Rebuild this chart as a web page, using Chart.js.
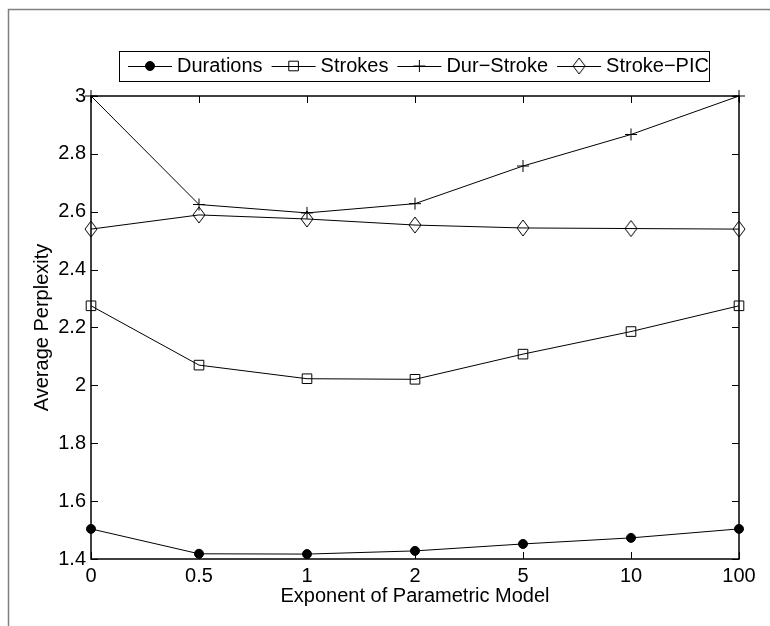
<!DOCTYPE html>
<html lang="en">
<head>
<meta charset="UTF-8">
<title>Average Perplexity</title>
<script src="https://cdn.jsdelivr.net/npm/chart.js"></script>
<style>
    body {
        margin: 0;
        background: #fff;
    }

    .wrap {
        width: 770px;
        height: 626px;
        position: relative;
    }
</style>
</head>
<body>
<div class="wrap"><canvas id="perplexityChart"></canvas></div>
<script>
    const exponents = ['0', '0.5', '1', '2', '5', '10', '100'];
    const durations = [1.504, 1.418, 1.417, 1.428, 1.452, 1.473, 1.504];
    const strokes = [2.275, 2.070, 2.023, 2.021, 2.108, 2.186, 2.275];
    const durStroke = [3.0, 2.625, 2.596, 2.628, 2.758, 2.867, 3.0];
    const strokePic = [2.540, 2.589, 2.575, 2.554, 2.544, 2.542, 2.540];
    const yMin = 1.4, yMax = 3, yStep = 0.2;

    const FONT = 'Liberation Sans, Arial, Helvetica, sans-serif';

    // open diamond, a bit taller than wide like the matlab marker
    function makeDiamond() {
        const c = document.createElement('canvas');
        c.width = 14; c.height = 18;
        const g = c.getContext('2d');
        g.strokeStyle = '#000';
        g.lineWidth = 1;
        g.beginPath();
        g.moveTo(7, 1); g.lineTo(13, 9); g.lineTo(7, 17); g.lineTo(1, 9);
        g.closePath();
        g.stroke();
        return c;
    }
    const diamond = makeDiamond();

    function series(label, data, style, radius, fill) {
        return {
            label: label,
            data: data,
            borderColor: '#000',
            borderWidth: 1,
            tension: 0,
            clip: false,
            pointStyle: style,
            pointRadius: radius,
            pointHoverRadius: radius,
            pointBorderColor: '#000',
            pointBorderWidth: 1,
            pointBackgroundColor: fill
        };
    }

    // matlab style box with inward ticks + outer frame
    const boxPlugin = {
        id: 'box',
        beforeDraw(chart) {
            const ctx = chart.ctx;
            ctx.save();
            ctx.strokeStyle = '#808080';
            ctx.lineWidth = 1.5;
            ctx.beginPath();
            ctx.moveTo(8.5, chart.height);
            ctx.lineTo(8.5, 9.5);
            ctx.lineTo(chart.width, 9.5);
            ctx.stroke();
            ctx.restore();
        },
        afterDatasetsDraw(chart) {
            const { ctx, chartArea: a, scales } = chart;
            const len = 7;
            ctx.save();
            ctx.strokeStyle = '#000';
            ctx.lineWidth = 1;
            ctx.beginPath();
            scales.x.ticks.forEach((t, i) => {
                const px = Math.round(scales.x.getPixelForTick(i)) + 0.5;
                ctx.moveTo(px, a.bottom); ctx.lineTo(px, a.bottom - len);
                ctx.moveTo(px, a.top); ctx.lineTo(px, a.top + len);
            });
            scales.y.ticks.forEach(t => {
                const py = Math.round(scales.y.getPixelForValue(t.value)) + 0.5;
                ctx.moveTo(a.left, py); ctx.lineTo(a.left + len, py);
                ctx.moveTo(a.right, py); ctx.lineTo(a.right - len, py);
            });
            ctx.stroke();
            ctx.lineWidth = 1.5;
            ctx.strokeRect(a.left, a.top, a.right - a.left, a.bottom - a.top);
            ctx.restore();
        },
        afterDraw(chart) {
            // legend box in the matlab layout: line with marker, then text
            const ctx = chart.ctx;
            const top = 51, bottom = 81, left = 119, right = 709;
            const midY = (top + bottom) / 2;
            ctx.save();
            ctx.fillStyle = '#fff';
            ctx.fillRect(left, top, right - left, bottom - top);
            ctx.strokeStyle = '#000';
            ctx.lineWidth = 1;
            ctx.strokeRect(left + 0.5, top + 0.5, right - left, bottom - top);
            ctx.font = '20px ' + FONT;
            ctx.textBaseline = 'middle';
            let x = 128;
            chart.data.datasets.forEach(ds => {
                ctx.strokeStyle = '#000';
                ctx.lineWidth = 1;
                ctx.beginPath();
                ctx.moveTo(x, midY + 0.5);
                ctx.lineTo(x + 44, midY + 0.5);
                ctx.stroke();
                ctx.fillStyle = ds.pointBackgroundColor;
                Chart.helpers.drawPoint(ctx, {
                    pointStyle: ds.pointStyle,
                    radius: ds.pointRadius,
                    borderWidth: 1,
                    rotation: 0
                }, x + 22, midY);
                ctx.fillStyle = '#000';
                ctx.fillText(ds.label, x + 49, midY);
                x += 49 + ctx.measureText(ds.label).width + 9;
            });
            ctx.restore();
        }
    };

    new Chart(document.getElementById('perplexityChart'), {
        type: 'line',
        data: {
            labels: exponents,
            datasets: [
                series('Durations', durations, 'circle', 4.5, '#000'),
                series('Strokes', strokes, 'rect', 6.8, 'rgba(0,0,0,0)'),
                series('Dur\u2212Stroke', durStroke, 'cross', 6, 'rgba(0,0,0,0)'),
                series('Stroke\u2212PIC', strokePic, diamond, 7, 'rgba(0,0,0,0)')
            ]
        },
        options: {
            responsive: true,
            maintainAspectRatio: false,
            animation: false,
            layout: { padding: { top: 96, right: 31, left: 0, bottom: 0 } },
            plugins: {
                legend: { display: false },
                tooltip: { enabled: false }
            },
            scales: {
                x: {
                    offset: false,
                    grid: { display: false, drawTicks: false },
                    border: { display: false },
                    ticks: {
                        color: '#000',
                        padding: 5,
                        maxRotation: 0,
                        font: { family: FONT, size: 20 }
                    },
                    title: {
                        display: true,
                        text: 'Exponent of Parametric Model',
                        color: '#000',
                        padding: { top: 0, bottom: 18 },
                        font: { family: FONT, size: 20 }
                    },
                    afterFit(s) { s.height = 67; }
                },
                y: {
                    min: yMin,
                    max: yMax,
                    grid: { display: false, drawTicks: false },
                    border: { display: false },
                    ticks: {
                        stepSize: yStep,
                        color: '#000',
                        padding: 5,
                        font: { family: FONT, size: 20 },
                        callback: v => String(+v.toFixed(1))
                    },
                    title: {
                        display: true,
                        text: 'Average Perplexity',
                        color: '#000',
                        padding: { top: 30, bottom: 0 },
                        font: { family: FONT, size: 20 }
                    },
                    afterFit(s) { s.width = 91; }
                }
            }
        },
        plugins: [boxPlugin]
    });
</script>
</body>
</html>
